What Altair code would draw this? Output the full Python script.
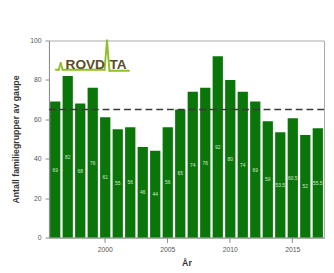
import altair as alt
import pandas as pd

years = list(range(1996, 2018))
values = [69, 82, 68, 76, 61, 55, 56, 46, 44, 56, 65, 74, 76, 92, 80, 74, 69, 59, 53.5, 60.5, 52, 55.5]
labels = ["69", "82", "68", "76", "61", "55", "56", "46", "44", "56", "65", "74", "76", "92",
          "80", "74", "69", "59", "53.5", "60.5", "52", "55.5"]
target = [65]
y_ticks = [0, 20, 40, 60, 80, 100]
x_ticks = [2000, 2005, 2010, 2015]
x_title = "År"
y_title = "Antall familiegrupper av gaupe"
logo_left = "ROVD"
logo_right = "TA"

df = pd.DataFrame({"year": years, "value": values, "label": labels})
df["mid"] = df["value"] / 2
tdf = pd.DataFrame({"t": target})

W, H = 282, 202

x_enc = alt.X(
    "year:O",
    title=x_title,
    scale=alt.Scale(paddingInner=0.18, paddingOuter=0.09),
    axis=alt.Axis(values=x_ticks, labelAngle=0, tickSize=5, labelPadding=3,
                  titleX=W / 2, titleY=26, titleBaseline="middle", titleAlign="center"),
)
y_scale = alt.Scale(domain=[0, 100], nice=False)
y_axis = alt.Axis(values=y_ticks, grid=False, tickSize=4, labelPadding=4,
                  titleX=-34, titleY=H / 2, titleAngle=-90, titleBaseline="middle",
                  titleAlign="center")

bars = alt.Chart(df).mark_bar(color="#0a760a").encode(
    x=x_enc,
    y=alt.Y("value:Q", title=y_title, scale=y_scale, axis=y_axis),
)
texts = alt.Chart(df).mark_text(fontSize=5, color="#d6ebcc", font="Liberation Sans").encode(
    x=alt.X("year:O"),
    y=alt.Y("mid:Q", title=y_title, scale=y_scale),
    text="label:N",
)
rule = alt.Chart(tdf).mark_rule(color="#3a3a3a", strokeDash=[7, 4], strokeWidth=1.5).encode(
    y=alt.Y("t:Q", title=y_title, scale=y_scale)
)

one = pd.DataFrame({"a": [0]})
green = "#8fbf2a"
segs = [
    (7, 30, 10, 30), (10, 30, 12, 23), (12, 23, 14, 30), (14, 30, 57, 30),
    (57, 30, 59.5, 0), (59.5, 0, 62, 31), (62, 31, 82, 31),
]
logo_layers = []
for (x1, y1, x2, y2) in segs:
    logo_layers.append(
        alt.Chart(one).mark_rule(color=green, strokeWidth=2, strokeCap="round").encode(
            x=alt.value(x1), x2=alt.value(x2), y=alt.value(y1), y2=alt.value(y2)
        )
    )
logo_font = "Liberation Sans"
logo_l = alt.Chart(one).mark_text(
    text=logo_left, fontSize=14, fontWeight="bold", font=logo_font, color="#5a4d26",
    align="left", baseline="alphabetic"
).encode(x=alt.value(17), y=alt.value(29))
logo_r = alt.Chart(one).mark_text(
    text=logo_right, fontSize=14, fontWeight="bold", font=logo_font, color="#5a4d26",
    align="left", baseline="alphabetic"
).encode(x=alt.value(62), y=alt.value(29))

chart = alt.layer(bars, texts, rule, *logo_layers, logo_l, logo_r).properties(
    width=W, height=H,
    autosize=alt.AutoSizeParams(type="none"),
    padding={"left": 42, "top": 30, "right": 2, "bottom": 33},
    background="white",
).configure_view(
    stroke="#a8a8a8", strokeWidth=1
).configure_axis(
    domainColor="#8a8a8a", tickColor="#8a8a8a", labelColor="#555555",
    labelFont="Liberation Sans", labelFontSize=7,
    titleFont="Liberation Sans", titleFontSize=9, titleColor="#333333", titleFontWeight="bold",
)

chart.save("out.html", embed_options={"renderer": "svg", "actions": False})
